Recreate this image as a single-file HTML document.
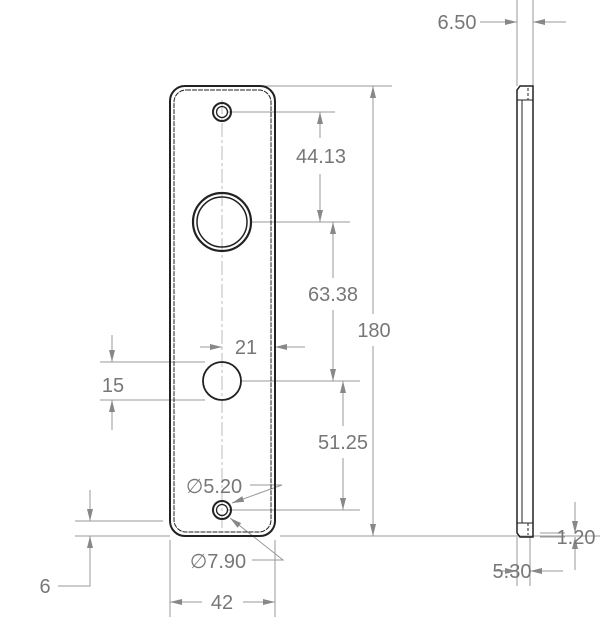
<!DOCTYPE html>
<html><head><style>html,body{margin:0;padding:0;background:#fff}svg{display:block}text{font-family:"Liberation Sans",sans-serif;fill:#777;font-size:20px;text-anchor:middle}</style></head><body>
<svg width="600" height="626" viewBox="0 0 600 626" xmlns="http://www.w3.org/2000/svg">
<defs>
<marker id="a" viewBox="0 0 12 6" refX="12" refY="3" markerWidth="12" markerHeight="6" orient="auto-start-reverse" markerUnits="userSpaceOnUse"><path d="M0,0L12,3L0,6Z" fill="#888"/></marker>
</defs>
<g fill="none" stroke="#999" stroke-width="1">
<line x1="232" y1="86" x2="392" y2="86"/>
<line x1="228" y1="112" x2="335" y2="112"/>
<line x1="250" y1="222" x2="350" y2="222"/>
<line x1="240" y1="381" x2="360" y2="381"/>
<line x1="228" y1="510" x2="360" y2="510"/>
<line x1="280" y1="536" x2="600" y2="536"/>
<line x1="75" y1="521" x2="163" y2="521"/>
<line x1="75" y1="536" x2="170" y2="536"/>
<line x1="100" y1="362" x2="205" y2="362"/>
<line x1="100" y1="400" x2="205" y2="400"/>
<line x1="170" y1="540" x2="170" y2="617"/>
<line x1="275" y1="540" x2="275" y2="617"/>
<line x1="222" y1="100" x2="222" y2="530" stroke-dasharray="14,3,3,3" stroke="#bbb"/>
<line x1="320" y1="112" x2="320" y2="138" marker-start="url(#a)"/>
<line x1="320" y1="174" x2="320" y2="222" marker-end="url(#a)"/>
<line x1="333" y1="222" x2="333" y2="278" marker-start="url(#a)"/>
<line x1="333" y1="310" x2="333" y2="381" marker-end="url(#a)"/>
<line x1="373" y1="86" x2="373" y2="314" marker-start="url(#a)"/>
<line x1="373" y1="346" x2="373" y2="536" marker-end="url(#a)"/>
<line x1="343" y1="381" x2="343" y2="426" marker-start="url(#a)"/>
<line x1="343" y1="458" x2="343" y2="510" marker-end="url(#a)"/>
<line x1="200" y1="347" x2="222" y2="347" marker-end="url(#a)"/>
<line x1="305" y1="347" x2="275" y2="347" marker-end="url(#a)"/>
<line x1="112" y1="335" x2="112" y2="362" marker-end="url(#a)"/>
<line x1="112" y1="430" x2="112" y2="400" marker-end="url(#a)"/>
<line x1="90" y1="490" x2="90" y2="521" marker-end="url(#a)"/>
<polyline points="58,586 90,586 90,536" marker-end="url(#a)"/>
<line x1="202" y1="602" x2="170" y2="602" marker-end="url(#a)"/>
<line x1="243" y1="602" x2="275" y2="602" marker-end="url(#a)"/>
<polyline points="250,485 282,485 232,503" marker-end="url(#a)"/>
<polyline points="252,560 283,560 230,518" marker-end="url(#a)"/>
<line x1="517" y1="0" x2="517" y2="86"/>
<line x1="533" y1="0" x2="533" y2="86"/>
<line x1="480" y1="22" x2="517" y2="22" marker-end="url(#a)"/>
<line x1="566" y1="22" x2="533" y2="22" marker-end="url(#a)"/>
<line x1="517" y1="537" x2="517" y2="586"/>
<line x1="530" y1="537" x2="530" y2="586"/>
<line x1="540" y1="533" x2="565" y2="533"/>
<line x1="540" y1="537" x2="565" y2="537"/>
<line x1="575" y1="502" x2="575" y2="533" marker-end="url(#a)"/>
<line x1="575" y1="570" x2="575" y2="537" marker-end="url(#a)"/>
<line x1="495" y1="571" x2="517" y2="571" marker-end="url(#a)"/>
<line x1="563" y1="571" x2="530" y2="571" marker-end="url(#a)"/>
</g>
<g fill="none" stroke="#222">
<rect x="170" y="86" width="105" height="450" rx="15" stroke-width="2"/>
<rect x="174" y="90" width="97" height="442" rx="12" stroke-width="1" stroke-dasharray="5,1"/>
<circle cx="222" cy="112" r="9" stroke-width="2"/>
<circle cx="222" cy="112" r="5.5" stroke-width="1.3"/>
<circle cx="222" cy="222" r="29" stroke-width="2.2"/>
<circle cx="222" cy="222" r="25" stroke-width="1.5"/>
<circle cx="222" cy="381" r="19" stroke-width="1.8"/>
<circle cx="222" cy="510" r="9" stroke-width="2"/>
<circle cx="222" cy="510" r="5.5" stroke-width="1.3"/>
<path d="M520,86 L533,86 L533,537 L520,537 L517,533 L517,90 Z" stroke-width="1.5"/>
<line x1="522" y1="100" x2="522" y2="523" stroke-width="1"/>
<line x1="517" y1="100" x2="533" y2="100" stroke-width="1"/>
<line x1="517" y1="523" x2="533" y2="523" stroke-width="1"/>
<line x1="528" y1="88" x2="528" y2="100" stroke-dasharray="3,2" stroke-width="1"/>
<line x1="528" y1="523" x2="528" y2="535" stroke-dasharray="3,2" stroke-width="1"/>
</g>
<text x="321" y="163">44.13</text>
<text x="333" y="301">63.38</text>
<text x="374" y="337">180</text>
<text x="343" y="449">51.25</text>
<text x="246" y="354">21</text>
<text x="113" y="392">15</text>
<text x="45" y="593">6</text>
<text x="214" y="493">∅5.20</text>
<text x="218" y="568">∅7.90</text>
<text x="222" y="609">42</text>
<text x="457" y="29">6.50</text>
<text x="576" y="544">1.20</text>
<text x="512" y="578">5.30</text>
</svg>
</body></html>
